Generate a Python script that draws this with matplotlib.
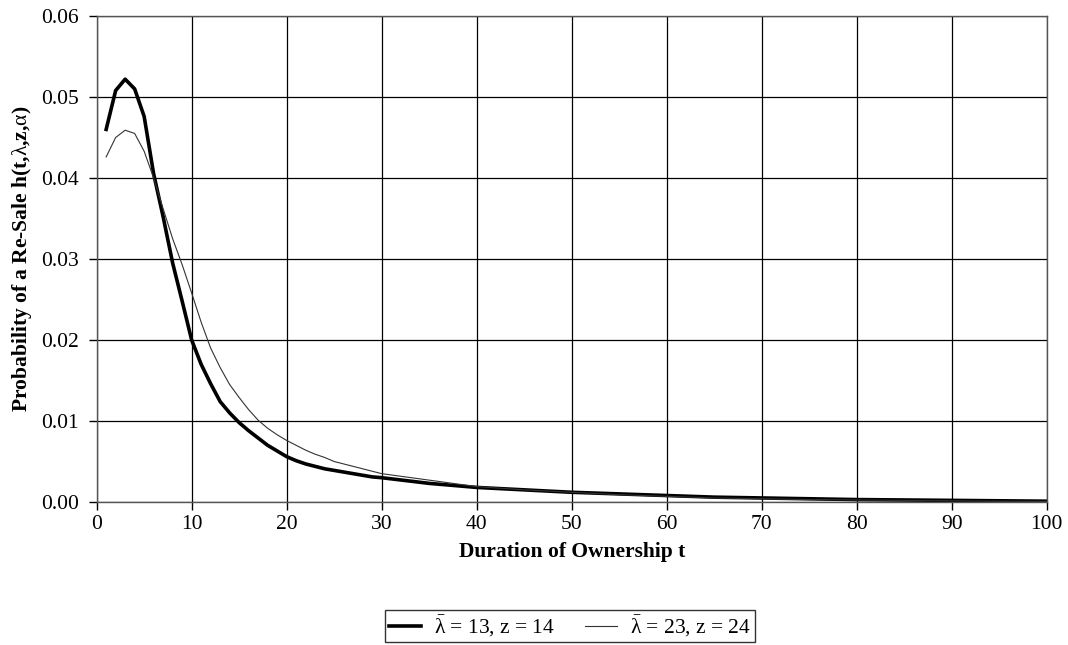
import matplotlib
matplotlib.use("Agg")
import matplotlib.pyplot as plt
import numpy as np

plt.rcParams['font.family'] = ['Liberation Serif', 'DejaVu Serif']
plt.rcParams['mathtext.fontset'] = 'custom'
plt.rcParams['mathtext.rm'] = 'Liberation Serif'
plt.rcParams['mathtext.it'] = 'Liberation Serif:italic'

# dauer t
t = [1, 2, 3, 4, 5, 6, 7, 8, 9, 10, 11, 12, 13, 14, 15, 16, 17, 18, 19, 20,
     21, 22, 23, 24, 25, 26, 27, 28, 29, 30, 35, 40, 45, 50, 55, 60, 65, 70,
     75, 80, 85, 90, 95, 100]

# lambda = 13, z = 14 (dicke Linie)
h_13 = [0.0460, 0.0508, 0.0522, 0.0510, 0.0476, 0.0405, 0.0352, 0.0295, 0.0248, 0.0200,
        0.0170, 0.0146, 0.0124, 0.0110, 0.0098, 0.0088, 0.0079, 0.0070, 0.0063, 0.0056,
        0.0051, 0.0047, 0.0044, 0.0041, 0.0039, 0.0037, 0.0035, 0.0033, 0.0031, 0.0030,
        0.0023, 0.0018, 0.0015, 0.0012, 0.0010, 0.0008, 0.0006, 0.0005,
        0.0004, 0.0003, 0.00025, 0.0002, 0.00015, 0.0001]

# lambda = 23, z = 24 (duenne Linie)
h_23 = [0.0426, 0.0450, 0.0459, 0.0455, 0.0433, 0.0400, 0.0362, 0.0325, 0.0293, 0.0258,
        0.0222, 0.0190, 0.0166, 0.0145, 0.0129, 0.0114, 0.0101, 0.0091, 0.0083, 0.0076,
        0.0070, 0.0064, 0.0059, 0.0055, 0.0050, 0.0047, 0.0044, 0.0041, 0.0038, 0.0035,
        0.0027, 0.0019, 0.0015, 0.0012, 0.0009, 0.0007, 0.0005, 0.0004,
        0.0003, 0.00025, 0.0002, 0.00015, 0.0001, 0.00008]

fig = plt.figure(figsize=(10.68, 6.45), dpi=100)
ax = fig.add_axes([0.0905, 0.2217, 0.8895, 0.7535])

ax.plot(t, h_13, color='black', linewidth=2.6, label=r'$\bar{\mathrm{\lambda}}$ = 13, z = 14')
ax.plot(t, h_23, color='#333333', linewidth=0.8, label=r'$\bar{\mathrm{\lambda}}$ = 23, z = 24')

ax.set_xlim(0, 100)
ax.set_ylim(0, 0.06)
ax.set_xticks(np.arange(0, 101, 10))
ax.set_yticks(np.arange(0, 0.061, 0.01))
ax.yaxis.set_major_formatter(matplotlib.ticker.FormatStrFormatter('%.2f'))
ax.grid(True, color='black', linewidth=0.9)
ax.tick_params(direction='out', length=6, width=1, labelsize=15.5)
ax.tick_params(axis='y', pad=7)
ax.tick_params(axis='x', pad=3)
for s in ax.spines.values():
    s.set_color('#555555')
    s.set_linewidth(1)

ax.set_xlabel('Duration of Ownership t', fontsize=15.5, fontweight='bold', labelpad=6)
ax.set_ylabel(r'Probability of a Re-Sale h(t,$\mathrm{\lambda}$,z,$\mathrm{\alpha}$)',
              fontsize=15.5, fontweight='bold', labelpad=5)

leg = ax.legend(loc='center', bbox_to_anchor=(570 / 1068, 1 - 626 / 645),
                bbox_transform=fig.transFigure, ncol=2, fontsize=15.5, frameon=True,
                fancybox=False, handlelength=1.5, handletextpad=0.6,
                columnspacing=1.4, borderpad=0.15)
leg.get_frame().set_edgecolor('black')
leg.get_frame().set_linewidth(1)

fig.savefig('out.png', dpi=100)
